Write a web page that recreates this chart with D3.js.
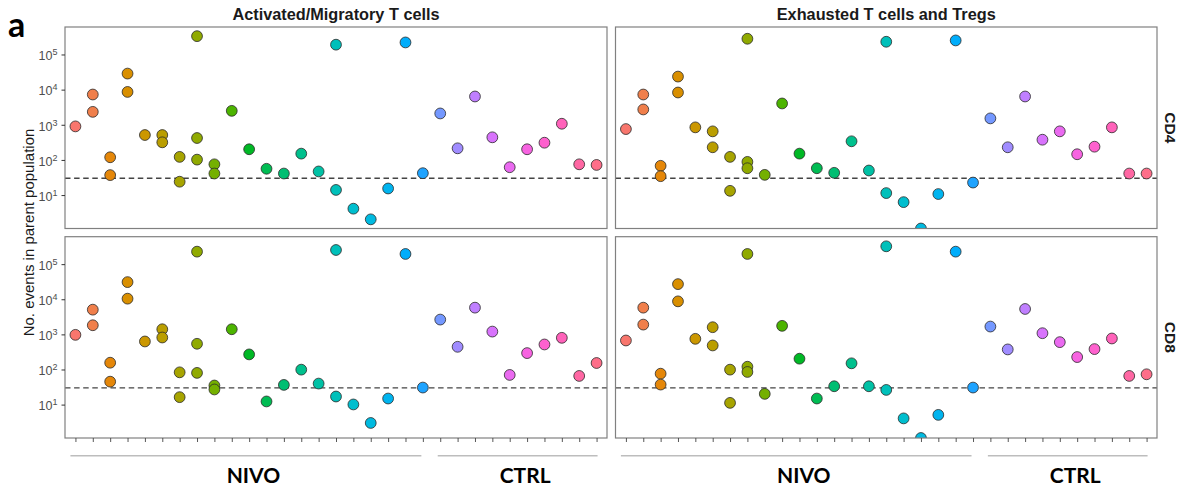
<!DOCTYPE html>
<html>
<head>
<meta charset="utf-8">
<script src="https://cdn.jsdelivr.net/npm/d3@7"></script>
<style>
  html, body { margin: 0; padding: 0; background: #fff; }
  svg { display: block; }
</style>
</head>
<body>
<svg id="chart" width="1185" height="493"></svg>
<script>
// ---------------- DATA ----------------
const nivoCategories = ["N01","N02","N03","N04","N05","N06","N07","N08","N09","N10","N11",
                        "N12","N13","N14","N15","N16","N17","N18","N19","N20","N21"];
const ctrlCategories = ["C01","C02","C03","C04","C05","C06","C07","C08","C09","C10"];
const categories = nivoCategories.concat(ctrlCategories);

const columnTitles = ["Activated/Migratory T cells", "Exhausted T cells and Tregs"];
const rowTitles = ["CD4", "CD8"];
const groupLabels = ["NIVO", "CTRL"];
const yTickValues = [10, 100, 1000, 10000, 100000];
const threshold = 30;

// values per category (several events per sample possible); 0 = none detected
const activatedCD4 = [[900],[7260,2330],[119,37],[28600,8600],[511],[511,317],[122,24],[332000,420,102],[75,41],[2490],[201],[56],[41],[151],[47],[190000,14],[4.1],[2.04],[15.4],[220000],[42],
                      [2100],[214],[6380],[440],[62],[201],[309],[1070],[75],[72]];
const exhaustedCD4 = [[755],[7260,2730],[68,34.5],[23500,8280],[844],[650,229],[122,13.2],[280000,88,58],[37.6],[4040],[151],[58],[43],[339],[50],[230000,11.4],[6.3],[0],[10.7],[251000],[22.7],
                      [1520],[229],[6380],[376],[650],[145],[238],[844],[41],[41]];
const activatedCD8 = [[970],[5060,1820],[156,45],[30800,10400],[628],[1400,815],[83,16.3],[227000,540,80],[35,27],[1400],[269],[12.3],[36.4],[99],[39.7],[253000,17],[10.1],[3],[14.9],[195000],[30.6],
                      [2640],[443],[5770],[1200],[70],[293],[516],[798],[65.5],[153]];
const exhaustedCD8 = [[670],[5770,1900],[76,37.2],[27000,8720],[747],[1600,484],[99,11.2],[195000,120,85],[20.2],[1750],[203],[14.9],[33.3],[150],[33.3],[322000,26.2],[4.05],[0],[5.1],[227000],[30.6],
                      [1670],[373],[5290],[1080],[601],[226],[381],[764],[65.5],[73]];

// panels: [row][col]
const panelData = [[activatedCD4, exhaustedCD4], [activatedCD8, exhaustedCD8]];

// ---------------- COLOURS (ggplot2 hue palette, R hcl) ----------------
function hclR(h, c, l) {
  const WY = 100, Wu = 0.1978398, Wv = 0.4683363;
  const hr = h * Math.PI / 180;
  const U = c * Math.cos(hr), V = c * Math.sin(hr);
  const Y = WY * (l > 7.999592 ? Math.pow((l + 16) / 116, 3) : l / 903.3);
  const u = U / (13 * l) + Wu, v = V / (13 * l) + Wv;
  const X = 9 * Y * u / (4 * v);
  const Z = -X / 3 - 5 * Y + 3 * Y / v;
  const g = t => t > 0.00304 ? 1.055 * Math.pow(t, 1 / 2.4) - 0.055 : 12.92 * t;
  const cl = t => Math.max(0, Math.min(1, t));
  const r = cl(g((3.240479 * X - 1.537150 * Y - 0.498535 * Z) / WY));
  const gg = cl(g((-0.969256 * X + 1.875992 * Y + 0.041556 * Z) / WY));
  const b = cl(g((0.055648 * X - 0.204043 * Y + 1.057311 * Z) / WY));
  return d3.rgb(r * 255, gg * 255, b * 255).formatHex();
}
const nCat = categories.length;
const color = d3.scaleOrdinal(categories,
  categories.map((c, i) => hclR(15 + 360 * i / nCat, 100, 65)));

// ---------------- LAYOUT ----------------
const svg = d3.select("#chart");
const colX = [[65, 607], [615.5, 1157]];
const rowY = [[27, 228.5], [236.7, 438]];

// y domain like ggplot: log range of data expanded by 5%
const allVals = panelData.flat(3).filter(v => v > 0);
const lmin = Math.log10(d3.min(allVals)), lmax = Math.log10(d3.max(allVals));
const ex = (lmax - lmin) * 0.05;
const yDomain = [Math.pow(10, lmin - ex), Math.pow(10, lmax + ex)];

const xScales = colX.map(r => d3.scalePoint(categories, r).padding(0.6));
const yScales = rowY.map(r => d3.scaleLog(yDomain, [r[1], r[0]]));

// clip paths
const defs = svg.append("defs");
rowY.forEach((ry, ri) => colX.forEach((cx, ci) => {
  defs.append("clipPath").attr("id", `clip-${ri}-${ci}`)
    .append("rect").attr("x", cx[0]).attr("y", ry[0])
    .attr("width", cx[1] - cx[0]).attr("height", ry[1] - ry[0]);
}));

rowY.forEach((ry, ri) => colX.forEach((cx, ci) => {
  const x = xScales[ci], y = yScales[ri];
  const g = svg.append("g");
  const inner = g.append("g").attr("clip-path", `url(#clip-${ri}-${ci})`);

  // threshold line
  inner.append("line")
    .attr("x1", cx[0]).attr("x2", cx[1])
    .attr("y1", y(threshold)).attr("y2", y(threshold))
    .attr("stroke", "#444").attr("stroke-width", 1.4)
    .attr("stroke-dasharray", "5.5,3.6");

  // points
  const pts = [];
  panelData[ri][ci].forEach((vals, i) => vals.forEach(v => pts.push({cat: categories[i], v})));
  inner.selectAll("circle").data(pts).join("circle")
    .attr("cx", d => x(d.cat))
    .attr("cy", d => d.v > 0 ? y(d.v) : ry[1])
    .attr("r", 5.4)
    .attr("fill", d => color(d.cat))
    .attr("stroke", "#2a2a2a").attr("stroke-width", 0.8);

  // panel border
  g.append("rect").attr("x", cx[0]).attr("y", ry[0])
    .attr("width", cx[1] - cx[0]).attr("height", ry[1] - ry[0])
    .attr("fill", "none").attr("stroke", "#808080").attr("stroke-width", 1.2);

  // y axis on left column
  if (ci === 0) {
    const ax = g.append("g").attr("transform", `translate(${cx[0]},0)`)
      .call(d3.axisLeft(y).tickValues(yTickValues).tickSize(3.5).tickPadding(4).tickFormat(() => ""));
    ax.select(".domain").remove();
    ax.selectAll(".tick line").attr("stroke", "#333").attr("stroke-width", 1);
    ax.selectAll(".tick text").each(function(d) {
      const t = d3.select(this);
      t.attr("fill", "#4d4d4d").attr("font-family", "Liberation Sans, Arial, sans-serif")
       .attr("font-size", 12.5).attr("dy", "0.42em");
      t.append("tspan").text("10");
      t.append("tspan").attr("dy", "-0.55em").attr("font-size", 9).text(Math.round(Math.log10(d)));
    });
  }
  // x ticks on bottom row
  if (ri === 1) {
    const ax = g.append("g").attr("transform", `translate(0,${ry[1]})`)
      .call(d3.axisBottom(x).tickSize(4).tickFormat(() => ""));
    ax.select(".domain").remove();
    ax.selectAll(".tick line").attr("stroke", "#444").attr("stroke-width", 0.9);
  }
}));

// column strip titles
colX.forEach((cx, ci) => {
  svg.append("text").attr("x", (cx[0] + cx[1]) / 2).attr("y", 19.5)
    .attr("text-anchor", "middle")
    .attr("font-family", "Liberation Sans, Arial, sans-serif")
    .attr("font-weight", "bold").attr("font-size", 16.3).attr("fill", "#1a1a1a")
    .text(columnTitles[ci]);
});
// row strip titles
rowY.forEach((ry, ri) => {
  const cy = (ry[0] + ry[1]) / 2;
  svg.append("text").attr("transform", `translate(1170,${cy}) rotate(90)`)
    .attr("text-anchor", "middle").attr("dominant-baseline", "central")
    .attr("font-family", "Liberation Sans, Arial, sans-serif")
    .attr("font-weight", "bold").attr("font-size", 15.5).attr("fill", "#1a1a1a")
    .text(rowTitles[ri]);
});

// y axis title
svg.append("text")
  .attr("transform", `translate(34,${(rowY[0][0] + rowY[1][1]) / 2}) rotate(-90)`)
  .attr("text-anchor", "middle")
  .attr("font-family", "Liberation Sans, Arial, sans-serif")
  .attr("font-size", 15).attr("fill", "#1a1a1a")
  .text("No. events in parent population");

// group brackets and labels
xScales.forEach(x => {
  const nivoStart = x(nivoCategories[0]) - 5;
  const nivoEnd = x(nivoCategories[nivoCategories.length - 1]) - 1.5;
  const ctrlStart = x(ctrlCategories[0]) - 2.5;
  const ctrlEnd = x(ctrlCategories[ctrlCategories.length - 1]) + 1;
  [[nivoStart, nivoEnd], [ctrlStart, ctrlEnd]].forEach((seg, gi) => {
    svg.append("line").attr("x1", seg[0]).attr("x2", seg[1])
      .attr("y1", 455.7).attr("y2", 455.7)
      .attr("stroke", "#bdbdbd").attr("stroke-width", 1.6);
    svg.append("text").attr("x", (seg[0] + seg[1]) / 2 + 7.5).attr("y", 483)
      .attr("text-anchor", "middle")
      .attr("font-family", "Lato, 'Open Sans', sans-serif")
      .attr("font-weight", "bold").attr("font-size", 21).attr("fill", "#000")
      .text(groupLabels[gi]);
  });
});

// panel letter
svg.append("text").attr("x", 8).attr("y", 37)
  .attr("font-family", "Lato, 'Open Sans', sans-serif")
  .attr("font-weight", "bold").attr("font-size", 34).attr("fill", "#000")
  .text("a");
</script>
</body>
</html>
